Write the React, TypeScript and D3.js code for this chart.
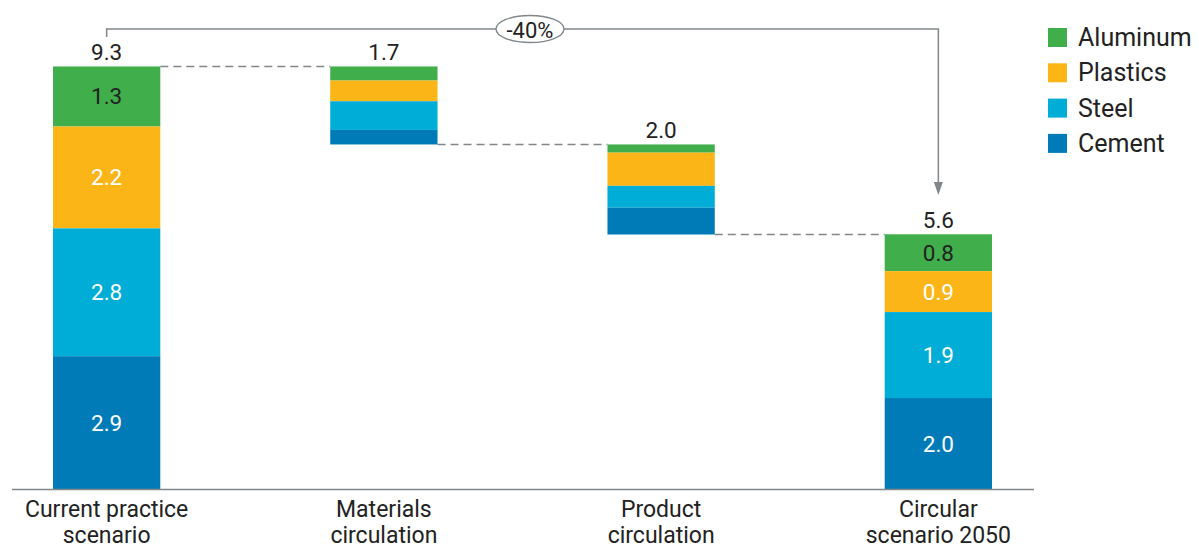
import React from "react";
import * as d3 from "d3";

const categories = ["Current practice scenario", "Materials circulation", "Product circulation", "Circular scenario 2050"];
const categoryLines = [["Current practice", "scenario"], ["Materials", "circulation"], ["Product", "circulation"], ["Circular", "scenario 2050"]];
const materials = ["Aluminum", "Plastics", "Steel", "Cement"];
const colors = ["#40AE4A", "#FBB517", "#00ADD7", "#007BB8"];
const labelColors = ["#222222", "#ffffff", "#ffffff", "#ffffff"];

// values per material (order: Aluminum, Plastics, Steel, Cement)
const currentPractice = [1.32, 2.24, 2.81, 2.92];
const materialsCirculation = [0.31, 0.455, 0.63, 0.32];
const productCirculation = [0.18, 0.73, 0.48, 0.59];
const circular2050 = [0.81, 0.9, 1.89, 2.0];
const showSegmentLabels = [true, false, false, true];
const reductionLabel = "-40%";

const W = 1199;
const H = 544;

export default function App() {
  const series = [currentPractice, materialsCirculation, productCirculation, circular2050];
  const totals = series.map((s) => d3.sum(s));
  const tops: number[] = [];
  tops[0] = totals[0];
  tops[1] = totals[0];
  tops[2] = totals[0] - totals[1];
  tops[3] = totals[3];

  const y = d3.scaleLinear().domain([0, 9.3]).range([489, 66]);
  const x = d3.scaleBand<string>().domain(categories).range([53, 992]).paddingInner(0.613).paddingOuter(0);
  const bw = x.bandwidth();

  const font = "Roboto, 'Noto Sans', sans-serif";
  const gray = "#80868a";

  const bars = series.map((s, i) => {
    let cur = tops[i];
    const segs = s.map((v, j) => {
      const t = cur;
      const b = cur - v;
      cur = b;
      return { j, v, t, b };
    });
    return { i, segs, bottom: cur };
  });

  const cx = (i: number) => (x(categories[i]) as number) + bw / 2;
  const bracketY = 29;
  const arrowTip = 195;

  return (
    <svg width={W} height={H} style={{ position: "absolute", left: 0, top: 0 }} fontFamily={font}>
      {[0, 1, 2].map((i) => {
        const yy = i === 0 ? y(tops[0]) : y(bars[i].bottom);
        return (
          <line key={"c" + i} x1={(x(categories[i]) as number) + bw} x2={x(categories[i + 1]) as number}
            y1={yy} y2={yy} stroke={gray} strokeWidth={1.5} strokeDasharray="8,5" />
        );
      })}
      {bars.map((bar) => (
        <g key={"b" + bar.i}>
          {bar.segs.map((s) => (
            <rect key={s.j} x={x(categories[bar.i])} y={y(s.t)} width={bw} height={y(s.b) - y(s.t)} fill={colors[s.j]} />
          ))}
          {showSegmentLabels[bar.i] && bar.segs.map((s) => (
            <text key={"l" + s.j} x={cx(bar.i)} y={(y(s.t) + y(s.b)) / 2} textAnchor="middle" dominantBaseline="central"
              fontSize={22.5} fill={labelColors[s.j]}>{s.v.toFixed(1)}</text>
          ))}
          <text x={cx(bar.i)} y={y(tops[bar.i]) - 6} textAnchor="middle" fontSize={22.5} fill="#222">{totals[bar.i].toFixed(1)}</text>
        </g>
      ))}
      <line x1={12} x2={1034} y1={y(0) + 0.5} y2={y(0) + 0.5} stroke={gray} strokeWidth={1.5} />
      {categoryLines.map((lines, i) => (
        <text key={"cat" + i} x={cx(i)} textAnchor="middle" fontSize={23} fill="#222">
          {lines.map((l, k) => (
            <tspan key={k} x={cx(i)} y={516.5 + k * 26}>{l}</tspan>
          ))}
        </text>
      ))}
      <path d={`M${cx(0)},37 V${bracketY} H${cx(3)} V${arrowTip - 12}`} fill="none" stroke={gray} strokeWidth={1.5} />
      <path d={`M${cx(3) - 4.5},${arrowTip - 13} L${cx(3) + 4.5},${arrowTip - 13} L${cx(3)},${arrowTip} Z`} fill={gray} />
      <ellipse cx={530} cy={bracketY} rx={34} ry={13.5} fill="#fff" stroke={gray} strokeWidth={1.3} />
      <text x={530} y={bracketY + 1} textAnchor="middle" dominantBaseline="central" fontSize={22} fill="#222">{reductionLabel}</text>
      {materials.map((m, j) => (
        <g key={"lg" + j}>
          <rect x={1048} y={28 + j * 35.3} width={19} height={19} fill={colors[j]} />
          <text x={1078} y={37.5 + j * 35.3} dominantBaseline="central" fontSize={25} fill="#222">{m}</text>
        </g>
      ))}
    </svg>
  );
}
